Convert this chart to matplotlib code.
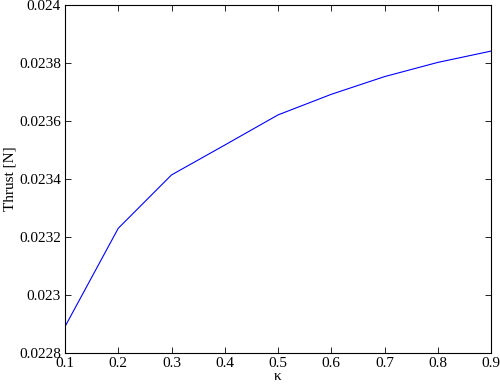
import matplotlib
matplotlib.use('Agg')
import matplotlib.pyplot as plt

kappa = [0.1, 0.2, 0.3, 0.4, 0.5, 0.6, 0.7, 0.8, 0.9]
thrust = [0.022891, 0.02323, 0.023414, 0.023517, 0.023621, 0.023692, 0.023753, 0.023802, 0.023841]
yticks = [0.0228, 0.023, 0.0232, 0.0234, 0.0236, 0.0238, 0.024]
ylabels = ['0.0228', '0.023', '0.0232', '0.0234', '0.0236', '0.0238', '0.024']

plt.rcParams['font.family'] = ['Liberation Serif', 'DejaVu Serif']
plt.rcParams['font.size'] = 11

fig = plt.figure(figsize=(5, 3.86), dpi=100)
ax = fig.add_axes([65/500, 1 - 353/386, 426/500, 348/386])
ax.plot(kappa, thrust, color='#0000ff', lw=0.8)
ax.set_xlim(0.1, 0.9)
ax.set_ylim(0.0228, 0.024)
ax.set_xticks(kappa)
ax.set_xticklabels([str(k) for k in kappa])
ax.set_yticks(yticks)
ax.set_yticklabels(ylabels)
ax.tick_params(direction='in', top=True, right=True, length=4, width=0.6, pad=3)
for s in ax.spines.values():
    s.set_linewidth(0.8)
ax.set_xlabel('κ', labelpad=0)
ax.set_ylabel('Thrust [N]', labelpad=2)

fig.savefig('out.png', dpi=100)
